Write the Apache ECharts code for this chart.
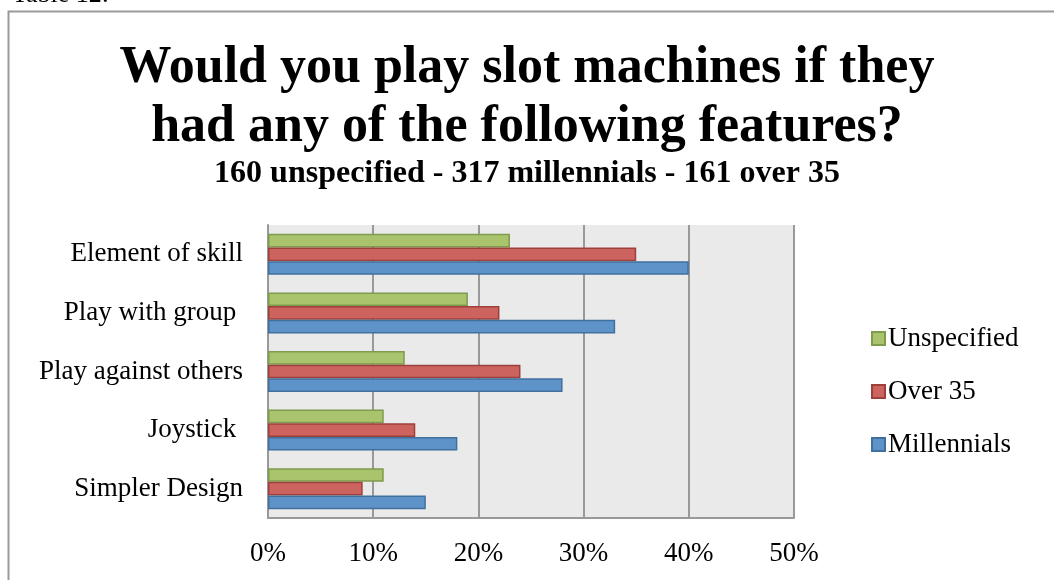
<!DOCTYPE html>
<html>
<head>
<meta charset="utf-8">
<script src="https://cdn.jsdelivr.net/npm/echarts@6/dist/echarts.min.js"></script>
<style>
html,body{margin:0;padding:0;background:#fff;}
#chart{width:1054px;height:580px;}
</style>
</head>
<body>
<div id="chart"></div>
<script>
// Data (categories listed bottom-to-top as drawn on the category axis)
const categories = ['Simpler Design', 'Joystick ', 'Play against others', 'Play with group ', 'Element of skill'];
const unspecified = [11, 11, 13, 19, 23];
const over35 = [9, 14, 24, 22, 35];
const millennials = [15, 18, 28, 33, 40];
const xTicks = [0, 10, 20, 30, 40, 50];

const serif = '"Liberation Serif", "DejaVu Serif", serif';
const chart = echarts.init(document.getElementById('chart'));

function barSeries(name, data, fill, stroke) {
  return {
    name: name,
    type: 'bar',
    data: data,
    barGap: '0%',
    barCategoryGap: '30%',
    itemStyle: { color: fill, borderColor: stroke, borderWidth: 1.5 },
    emphasis: { disabled: true }
  };
}

const titleStyle = { fontFamily: serif, fontWeight: 'bold', fontSize: 52, lineHeight: 57, color: '#000' };

chart.setOption({
  animation: false,
  backgroundColor: '#ffffff',
  title: [{
    text: 'Would you play slot machines if they',
    left: 'center', top: 40, padding: 0,
    textStyle: titleStyle
  }, {
    text: 'had any of the following features?',
    left: 'center', top: 99, padding: 0,
    textStyle: titleStyle
  }, {
    text: '160 unspecified - 317 millennials - 161 over 35',
    left: 'center', top: 158, padding: 0,
    textStyle: { fontFamily: serif, fontWeight: 'bold', fontSize: 32, lineHeight: 32, color: '#000' }
  }],
  graphic: [{
    type: 'rect',
    shape: { x: 8.5, y: 11.5, width: 1200, height: 700 },
    style: { fill: 'none', stroke: '#9a9a9a', lineWidth: 2 },
    silent: true
  }, {
    type: 'text',
    left: 12, top: -18,
    style: { text: 'Table 12:', font: '26px ' + serif, fill: '#000' },
    silent: true
  }],
  legend: {
    orient: 'vertical',
    left: 866,
    top: 320,
    itemWidth: 13,
    itemHeight: 13,
    itemGap: 26,
    icon: 'rect',
    data: ['Unspecified', 'Over 35', 'Millennials'],
    textStyle: { fontFamily: serif, fontSize: 27, color: '#000', padding: [0, 0, 0, -2] }
  },
  grid: {
    left: 268, top: 225, right: 260, bottom: 62,
    show: true, backgroundColor: '#eaeaea', borderWidth: 0
  },
  xAxis: {
    type: 'value',
    min: 0, max: 50, interval: 10,
    axisLine: { show: true, lineStyle: { color: '#999', width: 2 } },
    axisTick: { show: false },
    splitLine: { show: true, lineStyle: { color: '#999', width: 2 } },
    axisLabel: {
      margin: 22,
      fontFamily: serif, fontSize: 27, color: '#000',
      formatter: function (v) { return xTicks.indexOf(v) >= 0 ? v + '%' : ''; }
    }
  },
  yAxis: {
    type: 'category',
    data: categories,
    axisLine: { show: true, lineStyle: { color: '#999', width: 2 } },
    axisTick: { show: false },
    axisLabel: { margin: 25, fontFamily: serif, fontSize: 27, color: '#000', padding: [4, 0, 0, 0] }
  },
  series: [
    barSeries('Unspecified', unspecified, '#a9c46c', '#7f9b4c'),
    barSeries('Over 35', over35, '#cc635f', '#9d403c'),
    barSeries('Millennials', millennials, '#5e93c9', '#41709f')
  ]
});
</script>
</body>
</html>
